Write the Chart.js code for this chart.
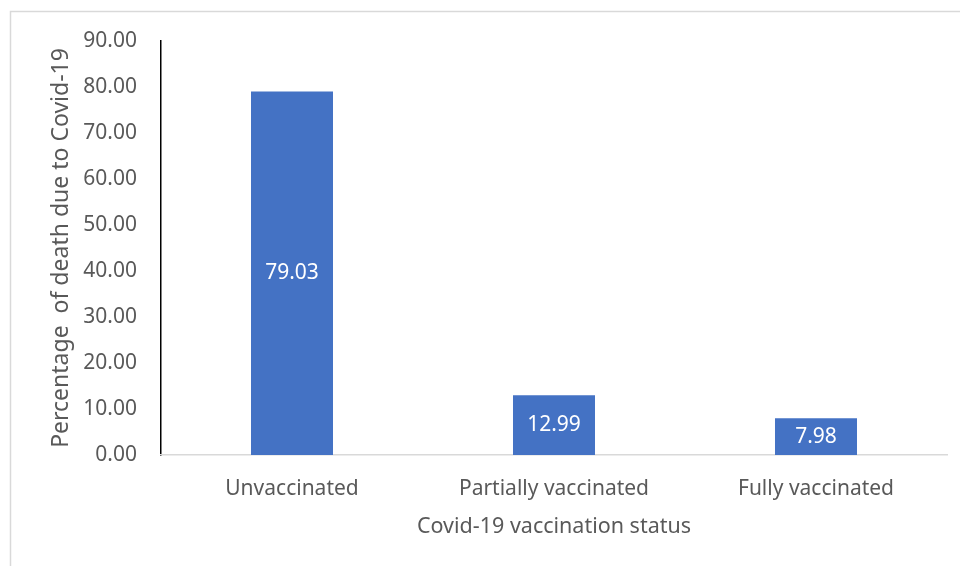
<!DOCTYPE html>
<html>
<head>
<meta charset="utf-8">
<script src="https://cdn.jsdelivr.net/npm/chart.js@4"></script>
<style>
  html, body { margin: 0; padding: 0; background: #fff; }
  #wrap { width: 960px; height: 566px; position: relative; }
</style>
</head>
<body>
<div id="wrap"><canvas id="deathChart"></canvas></div>
<script>
// data
const categories = ['Unvaccinated', 'Partially vaccinated', 'Fully vaccinated'];
const deathPct = [79.03, 12.99, 7.98];
const yTicks = [0, 10, 20, 30, 40, 50, 60, 70, 80, 90];

const FONT = "'Noto Sans', 'Open Sans', sans-serif";
const TEXT = '#595959';

// light frame round the chart, like the Excel chart border
const framePlugin = {
  id: 'frame',
  beforeDraw(chart) {
    const c = chart.ctx;
    c.save();
    c.strokeStyle = '#d9d9d9';
    c.lineWidth = 1.5;
    c.beginPath();
    c.moveTo(10.5, chart.height);
    c.lineTo(10.5, 11.5);
    c.lineTo(chart.width, 11.5);
    c.stroke();
    c.restore();
  }
};

// values written in the middle of each bar
const barLabels = {
  id: 'barLabels',
  afterDatasetsDraw(chart) {
    const c = chart.ctx;
    const meta = chart.getDatasetMeta(0);
    c.save();
    c.fillStyle = '#ffffff';
    c.font = '21px ' + FONT;
    c.textAlign = 'center';
    c.textBaseline = 'middle';
    meta.data.forEach((bar, i) => {
      c.fillText(deathPct[i].toFixed(2), bar.x, (bar.y + bar.base) / 2);
    });
    c.restore();
  }
};

new Chart(document.getElementById('deathChart'), {
  type: 'bar',
  data: {
    labels: categories,
    datasets: [{
      data: deathPct,
      backgroundColor: '#4472c4',
      borderWidth: 0,
      categoryPercentage: 1,
      barPercentage: 0.313
    }]
  },
  options: {
    responsive: true,
    maintainAspectRatio: false,
    animation: false,
    layout: { padding: { left: 0, top: 41, right: 13, bottom: 0 } },
    plugins: {
      legend: { display: false },
      tooltip: { enabled: false }
    },
    scales: {
      y: {
        min: 0,
        max: 90,
        afterFit(s) { s.width = 161; },
        afterBuildTicks(s) { s.ticks = yTicks.map(v => ({ value: v })); },
        grid: { display: false, drawTicks: false, tickLength: 0 },
        border: { display: true, color: '#000000', width: 1.5 },
        ticks: {
          padding: 24,
          color: TEXT,
          font: { family: FONT, size: 21 },
          callback: v => Number(v).toFixed(2)
        },
        title: {
          display: true,
          text: 'Percentage  of death due to Covid-19',
          color: TEXT,
          font: { family: FONT, size: 23 },
          padding: { top: 48, bottom: 0 }
        }
      },
      x: {
        afterFit(s) { s.height = 111; },
        grid: { display: false, drawTicks: false, tickLength: 0 },
        border: { display: true, color: '#d9d9d9', width: 1.5 },
        ticks: {
          padding: 21,
          color: TEXT,
          maxRotation: 0,
          font: { family: FONT, size: 21 }
        },
        title: {
          display: true,
          text: 'Covid-19 vaccination status',
          color: TEXT,
          font: { family: FONT, size: 21.5 },
          padding: { top: 0, bottom: 26 }
        }
      }
    }
  },
  plugins: [framePlugin, barLabels]
});
</script>
</body>
</html>
